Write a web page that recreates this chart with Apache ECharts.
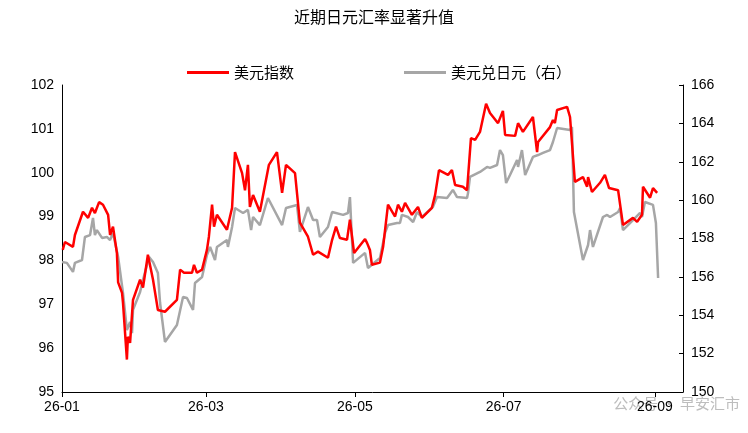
<!DOCTYPE html>
<html>
<head>
<meta charset="utf-8">
<script src="https://cdn.jsdelivr.net/npm/echarts@6/dist/echarts.min.js"></script>
<style>html,body{margin:0;padding:0;background:#fff}#chart{width:748px;height:433px}</style>
</head>
<body>
<div id="chart"></div>
<script>
// days counted from 2026-01-01
const dxyDays = [0.3,1.2,4.5,5.3,8.6,10.7,12.3,13.5,15.2,16.8,18.9,19.7,20.9,22.5,23.0,24.6,25.0,26.6,27.0,27.9,28.7,29.1,32.0,33.2,35.2,37.3,39.3,42.2,47.1,48.4,50.0,53.3,54.1,55.3,57.4,59.4,60.2,61.5,62.3,63.5,67.6,69.7,70.9,73.8,75.0,76.2,77.0,78.3,81.1,84.8,88.1,90.2,91.8,95.5,97.5,100.8,102.9,104.9,109.0,110.7,112.3,113.9,116.8,118.0,119.7,124.2,125.0,126.2,127.0,130.3,131.6,133.6,136.5,137.7,139.3,140.6,143.4,145.9,147.5,151.6,152.9,154.5,158.2,159.8,161.1,164.3,166.0,167.6,169.3,171.3,173.8,175.4,178.7,180.7,181.6,185.7,186.9,188.9,193.0,194.7,195.1,200.0,201.2,202.0,202.9,207.0,208.2,210.2,213.5,215.2,215.6,217.2,220.5,222.5,224.2,227.9,229.9,234.0,235.7,237.7,238.1,241.0,242.2,243.9]
const dxyValues = [98.24,98.42,98.31,98.58,99.11,98.97,99.2,99.08,99.33,99.27,99.04,98.58,98.77,98.17,97.5,97.26,97.03,95.74,96.26,96.12,96.12,97.1,97.56,97.38,98.13,97.56,96.87,96.83,97.1,97.79,97.72,97.72,97.9,97.72,97.79,98.24,98.54,99.27,98.77,99.04,98.7,99.2,100.47,99.99,99.6,100.18,99.22,99.49,99.11,100.18,100.47,99.54,100.18,99.99,98.86,98.54,98.13,98.2,98.06,98.47,98.77,98.51,98.47,98.93,98.17,98.49,98.4,98.24,97.9,97.95,98.31,99.27,99.0,99.27,99.11,99.31,99.04,99.22,98.97,99.2,99.49,100.06,99.95,100.06,99.72,99.68,99.6,100.79,100.75,100.93,101.57,101.36,101.13,101.41,100.86,100.84,101.13,100.93,101.27,100.47,100.7,101.04,101.2,101.13,101.43,101.5,101.27,99.79,99.9,99.68,99.9,99.56,99.77,99.95,99.65,99.6,98.81,98.97,98.88,99.04,99.68,99.43,99.65,99.54]

const jpyDays = [0,2.0,4.5,5.3,8.2,9.4,11.5,12.7,13.5,14.3,16.4,18.4,19.7,20.9,23.0,25.0,26.6,27.9,28.7,29.1,32.0,33.2,35.7,37.3,39.3,40.2,42.2,47.1,49.6,51.2,53.7,54.5,57.4,59.4,60.7,62.7,63.5,67.6,68.0,69.7,70.9,74.2,76.2,77.5,78.3,81.1,84.4,90.2,91.8,96.3,97.5,100.8,102.9,104.5,105.7,109.0,110.7,115.2,117.2,118.0,119.3,124.2,125.4,130.3,132.4,133.6,137.3,138.5,139.3,141.8,143.9,145.5,147.5,152.0,153.7,157.8,160.2,161.9,166.0,166.4,167.2,171.3,174.2,175.4,178.3,179.5,180.7,182.0,183.6,186.5,186.9,188.5,189.8,193.0,195.1,197.1,200.0,201.2,202.9,208.2,209.0,209.8,213.5,215.6,216.4,217.6,221.7,223.4,224.6,227.9,228.7,229.9,234.0,236.9,237.7,238.9,242.2,243.4,244.3]
const jpyValues = [156.78,156.73,156.26,156.73,156.88,158.08,158.18,159.07,158.18,158.44,158.03,158.08,157.92,158.29,157.04,155.16,153.23,153.65,153.07,154.28,155.21,155.84,157.04,156.78,156.2,154.64,152.61,153.49,154.95,154.9,154.28,155.68,155.99,157.14,157.56,156.88,157.56,157.92,157.56,158.6,159.59,159.33,159.49,158.44,159.12,158.7,160.11,158.7,159.59,159.75,158.34,159.64,158.96,158.96,158.08,158.6,159.38,159.23,159.33,160.16,156.73,157.25,156.46,156.98,158.29,158.7,158.81,158.81,159.23,159.12,158.86,159.38,159.12,159.64,160.16,160.11,160.53,160.16,160.11,160.37,161.21,161.47,161.73,161.68,161.83,162.61,162.35,160.89,161.31,162.09,161.73,162.61,161.31,162.25,162.35,162.46,162.61,163.03,163.76,163.66,163.81,159.38,156.88,157.66,158.44,157.56,159.12,159.23,159.12,159.38,159.59,158.44,158.96,159.33,159.12,159.9,159.75,158.81,155.94]

// month starts as day offsets, with their labels
const tickDays = [0, 59, 120, 181, 243]
const tickLabels = ['26-01', '26-03', '26-05', '26-07', '26-09']

const toPts = (days, vals) => days.map((d, i) => [d, vals[i]])
const font = '"Noto Sans CJK SC", sans-serif'

const chart = echarts.init(document.getElementById('chart'))
chart.setOption({
    animation: false,
    title: {
        text: '近期日元汇率显著升值',
        left: 'center', top: 4,
        textStyle: { fontFamily: font, fontSize: 16, fontWeight: 'normal', color: '#000' }
    },
    legend: {
        top: 60, left: 182, itemGap: 110, itemWidth: 42, itemHeight: 3,
        icon: 'rect',
        textStyle: { fontFamily: font, fontSize: 15, color: '#000' },
        data: ['美元指数', '美元兑日元（右）']
    },
    graphic: [{
        type: 'text', right: 8, bottom: 22,
        style: { text: '公众号 · 早安汇市', fill: '#bdbdbd', font: '15px "Noto Sans CJK SC"' }
    }],
    grid: { left: 62, right: 65, top: 85, bottom: 41 },
    xAxis: {
        type: 'value', min: 0, max: 254.5,
        axisLine: { lineStyle: { color: '#000' } },
        axisTick: { show: true, customValues: tickDays, length: 5, lineStyle: { color: '#000' } },
        axisLabel: {
            customValues: tickDays, color: '#000', fontSize: 14, fontFamily: 'Arial',
            formatter: v => tickLabels[tickDays.indexOf(v)] || ''
        },
        splitLine: { show: false }
    },
    yAxis: [{
        type: 'value', min: 95, max: 102, interval: 1,
        axisLine: { show: true, lineStyle: { color: '#000' } },
        axisTick: { show: false },
        axisLabel: { color: '#000', fontSize: 14, fontFamily: 'Arial' },
        splitLine: { show: false }
    }, {
        type: 'value', min: 150, max: 166, interval: 2,
        axisLine: { show: true, lineStyle: { color: '#000' } },
        axisTick: { show: true, inside: true, length: 4, lineStyle: { color: '#000' } },
        axisLabel: { color: '#000', fontSize: 14, fontFamily: 'Arial' },
        splitLine: { show: false }
    }],
    series: [{
        name: '美元指数', type: 'line', yAxisIndex: 0, showSymbol: false,
        color: '#ff0000', lineStyle: { width: 2.5 }, z: 3,
        data: toPts(dxyDays, dxyValues)
    }, {
        name: '美元兑日元（右）', type: 'line', yAxisIndex: 1, showSymbol: false,
        color: '#a6a6a6', lineStyle: { width: 2.5 }, z: 2,
        data: toPts(jpyDays, jpyValues)
    }]
})
</script>
</body>
</html>
